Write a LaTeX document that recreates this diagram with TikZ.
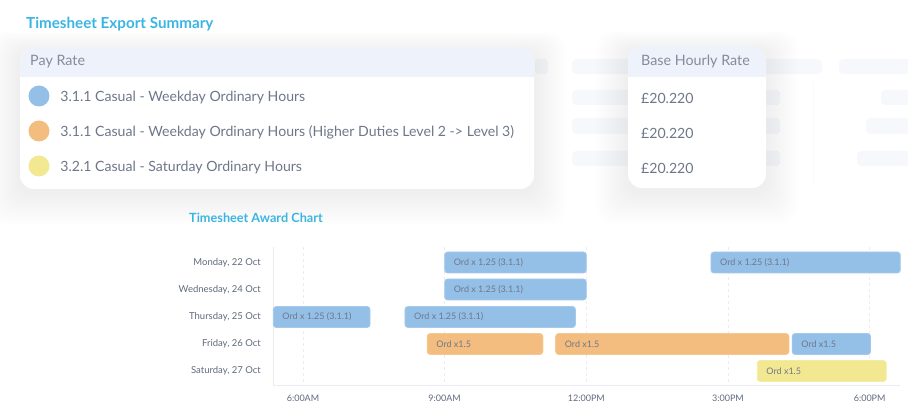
\documentclass[tikz,border=0pt]{standalone}
\usepackage{fontspec}
\setmainfont{Lato}
\usetikzlibrary{positioning}

\definecolor{headblue}{HTML}{3AB5E3}
\definecolor{bandgray}{HTML}{EEF2FA}
\definecolor{ghostgray}{HTML}{F7F8FB}
\definecolor{textgray}{HTML}{6E778A}
\definecolor{labelgray}{HTML}{5F6A7C}
\definecolor{axisgray}{HTML}{EAECEF}
\definecolor{rateblue}{HTML}{94C0E8}
\definecolor{rateorange}{HTML}{F4BD80}
\definecolor{rateyellow}{HTML}{F2E892}

\tikzset{
  sectiontitle/.style={text=headblue,font=\bfseries\fontsize{15.2}{17}\selectfont,inner sep=0pt},
  charttitle/.style={text=headblue,font=\bfseries\fontsize{12.7}{14}\selectfont,inner sep=0pt},
  cardhead/.style={text=textgray!85,font=\fontsize{14.3}{16}\selectfont,inner sep=0pt},
  rowtext/.style={text=textgray,font=\fontsize{14.1}{16}\selectfont,inner sep=0pt,yshift=-1.5pt},
  ratedot/.style={circle,minimum size=21pt,inner sep=0pt},
  daylabel/.style={text=labelgray,font=\fontsize{9.5}{11}\selectfont,inner sep=0pt,anchor=east},
  ticklabel/.style={text=labelgray,font=\fontsize{9}{11}\selectfont,inner sep=0pt},
  bartext/.style={text=textgray,font=\fontsize{9}{11}\selectfont,inner sep=0pt},
  barshape/.style={rounded corners=3pt,line width=0.8pt},
  gridline/.style={axisgray,dashed,line width=0.6pt},
  ghost/.style={fill=ghostgray,rounded corners=4pt}
}

\begin{document}
\begin{tikzpicture}[x=1pt,y=-1pt]
\newcommand{\hr}{47.22}
\newcommand{\xsix}{303}
\newcommand{\awardbar}[6]{%
  \path[barshape,fill=#4,draw=#4!85!white] ({\xsix+(#2-6)*\hr},#1-10.5) rectangle ({\xsix+(#3-6)*\hr},#1+10.5);
  \node[bartext,anchor=west] (#6) at ({\xsix+(#2-6)*\hr+9},#1) {#5};}

\useasboundingbox (0,0) rectangle (908,403);

% faded table behind the cards
\fill[ghost] (535,59) rectangle (548,74);
\fill[ghost] (572,59) rectangle (822,74);
\fill[ghost] (839,59) rectangle (912,74);
\fill[ghost] (572,90) rectangle (780,105);
\fill[ghost] (881,90) rectangle (912,105);
\fill[ghost] (572,118) rectangle (780,134);
\fill[ghost] (866,118) rectangle (912,134);
\fill[ghost] (572,151) rectangle (780,166);
\fill[ghost] (857,151) rectangle (912,166);
\draw[ghostgray!70!white,line width=0.5pt] (813,82) -- (813,185);

% soft shadows
\foreach \s in {1,...,16}{
  \fill[black,opacity=0.0032,rounded corners=16pt] (20-2*\s,47-1.2*\s+4) rectangle (534+2*\s,189+2*\s+4);
  \fill[black,opacity=0.0032,rounded corners=16pt] (628-2*\s,46-1.2*\s+4) rectangle (766+2*\s,188+2*\s+4);
}

% pay rate card
\fill[white,rounded corners=14pt] (20,47) rectangle (534,189);
\begin{scope}
  \clip[rounded corners=14pt] (20,47) rectangle (534,189);
  \fill[bandgray] (20,47) rectangle (534,77);
\end{scope}

% base rate card
\fill[white,rounded corners=14pt] (628,46) rectangle (766,188);
\begin{scope}
  \clip[rounded corners=14pt] (628,46) rectangle (766,188);
  \fill[bandgray] (628,46) rectangle (766,77);
\end{scope}

\node[sectiontitle,anchor=west] (exporttitle) at (26,24) {Timesheet Export Summary};
\node[cardhead,anchor=west] (payhead) at (30,62) {Pay Rate};
\node[cardhead,anchor=west] (basehead) at (641,61) {Base Hourly Rate};

\foreach \n/\yy/\col/\txt in {1/96/rateblue/{3.1.1 Casual - Weekday Ordinary Hours},
    2/131/rateorange/{3.1.1 Casual - Weekday Ordinary Hours (Higher Duties Level 2 -> Level 3)},
    3/166/rateyellow/{3.2.1 Casual - Saturday Ordinary Hours}}{
  \node[ratedot,fill=\col] (dot\n) at (39,\yy) {};
  \node[rowtext,right=10.5pt of dot\n] (rate\n) {\txt};
  \node[rowtext,anchor=west] (amount\n) at (641,\yy+1) {£20.220};
}

% award chart
\node[charttitle,anchor=west] (charttitle) at (189,218) {Timesheet Award Chart};

\foreach \h/\lab in {6/6:00AM,9/9:00AM,12/12:00PM,15/3:00PM,18/6:00PM}{
  \draw[gridline] ({\xsix+(\h-6)*\hr},247) -- ({\xsix+(\h-6)*\hr},385);
  \node[ticklabel] (tick\h) at ({\xsix+(\h-6)*\hr},398) {\lab};
}
\draw[axisgray,line width=0.8pt] (273,247) -- (273,385) -- (900,385);

\node[daylabel] (mon) at (261,262.5) {Monday, 22 Oct};
\node[daylabel] (wed) at (261,289.5) {Wednesday, 24 Oct};
\node[daylabel] (thu) at (261,317) {Thursday, 25 Oct};
\node[daylabel] (fri) at (261,344) {Friday, 26 Oct};
\node[daylabel] (sat) at (261,371) {Saturday, 27 Oct};

\awardbar{262.5}{9}{12}{rateblue}{Ord x 1.25 (3.1.1)}{mona}
\awardbar{262.5}{14.64}{18.65}{rateblue}{Ord x 1.25 (3.1.1)}{monb}
\awardbar{289.5}{9}{12}{rateblue}{Ord x 1.25 (3.1.1)}{weda}
\awardbar{317}{5.37}{7.42}{rateblue}{Ord x 1.25 (3.1.1)}{thua}
\awardbar{317}{8.16}{11.77}{rateblue}{Ord x 1.25 (3.1.1)}{thub}
\awardbar{344}{8.63}{11.08}{rateorange}{Ord x1.5}{fria}
\awardbar{344}{11.35}{16.29}{rateorange}{Ord x1.5}{frib}
\awardbar{344}{16.36}{18.02}{rateblue}{Ord x1.5}{fric}
\awardbar{371}{15.62}{18.35}{rateyellow}{Ord x1.5}{sata}
\end{tikzpicture}
\end{document}
